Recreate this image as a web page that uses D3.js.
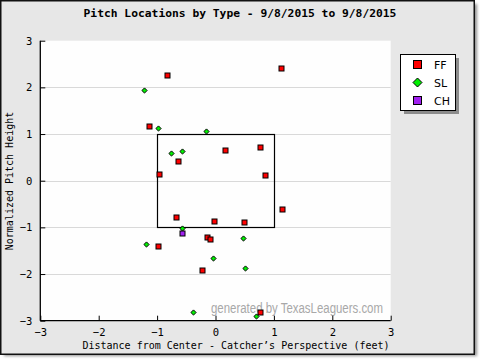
<!DOCTYPE html>
<html><head><meta charset="utf-8">
<script src="https://cdn.jsdelivr.net/npm/d3@7"></script>
<style>body{margin:0;background:#fff}svg{display:block}</style>
</head><body>
<script>
const pitchTypes = ["FF","SL","CH"];
const typeColors = ["#ff0000","#00ee00","#a020f0"];
const ffX = [-0.83,1.125,-1.14,-0.64,0.165,0.765,-0.97,0.85,1.14,-0.675,-0.03,0.49,-0.14,-0.09,-0.99,-0.23,0.765];
const ffY = [2.27,2.42,1.18,0.43,0.66,0.73,0.15,0.13,-0.60,-0.77,-0.86,-0.89,-1.20,-1.24,-1.39,-1.91,-2.81];
const slX = [-1.22,-0.98,-0.16,-0.76,-0.57,-0.57,0.47,-1.19,-0.04,0.51,-0.38,0.70];
const slY = [1.95,1.14,1.07,0.60,0.64,-1.01,-1.22,-1.35,-1.65,-1.86,-2.81,-2.89];
const chX = [-0.57];
const chY = [-1.11];
const axisTicks = [-3,-2,-1,0,1,2,3];
const gridTicks = [-2,-1,0,1,2];
const zoneX = [-1,1];
const zoneY = [-1,1];

const W=480,H=360;
const svg=d3.select("body").append("svg").attr("width",W).attr("height",H);
const defs=svg.append("defs");
defs.append("filter").attr("id","blur").attr("x","-10%").attr("y","-10%").attr("width","120%").attr("height","120%")
  .append("feGaussianBlur").attr("stdDeviation",1.5);
// panel + shadow
svg.append("rect").attr("x",4).attr("y",4).attr("width",473).attr("height",352).attr("fill","#909090").attr("filter","url(#blur)");
svg.append("rect").attr("x",0.75).attr("y",0.75).attr("width",473.5).attr("height",353.5).attr("fill","#e7e7e7").attr("stroke","#111").attr("stroke-width",1.5);

const x=d3.scaleLinear().domain([-3,3]).range([40.3,390.7]);
const y=d3.scaleLinear().domain([-3,3]).range([320.7,40.7]);

svg.append("rect").attr("x",x(-3)).attr("y",y(3)).attr("width",x(3)-x(-3)).attr("height",y(-3)-y(3)).attr("fill","#fefefe");

svg.append("g").selectAll("line").data(gridTicks).join("line")
  .attr("x1",x(-3)).attr("x2",x(3)).attr("y1",d=>Math.round(y(d))+0.5).attr("y2",d=>Math.round(y(d))+0.5)
  .attr("stroke","#d9d9d9");

// watermark
svg.append("text").attr("x",211).attr("y",313).attr("textLength",172).attr("lengthAdjust","spacingAndGlyphs")
  .attr("font-family","Liberation Sans, Arial, sans-serif").attr("font-size",14).attr("fill","#a8a8a8")
  .text("generated by TexasLeaguers.com");

// strike zone
svg.append("rect").attr("x",Math.round(x(zoneX[0]))+0.5).attr("y",Math.round(y(zoneY[1]))+0.5)
  .attr("width",Math.round(x(zoneX[1]))-Math.round(x(zoneX[0]))).attr("height",Math.round(y(zoneY[0]))-Math.round(y(zoneY[1])))
  .attr("fill","none").attr("stroke","#000").attr("stroke-width",1.2);

const tickFont="DejaVu Sans Mono, monospace";
const xa=svg.append("g").attr("transform",`translate(0,${y(-3)})`)
  .call(d3.axisBottom(x).tickValues(axisTicks).tickSize(-5).tickPadding(8).tickFormat(d3.format("d")));
const ya=svg.append("g").attr("transform",`translate(${x(-3)},0)`)
  .call(d3.axisLeft(y).tickValues(axisTicks).tickSize(-5).tickPadding(8).tickFormat(d3.format("d")));
[xa,ya].forEach(g=>{
  g.select(".domain").attr("stroke","#000").attr("stroke-width",1.3);
  g.selectAll(".tick line").attr("stroke","#000");
  g.selectAll("text").attr("font-family",tickFont).attr("font-size",10.5).attr("fill","#000");
});
xa.select(".domain").attr("d",`M${x(-3)},0H${x(3)}`);
ya.select(".domain").attr("d",`M0,${y(-3)}V${y(3)}`);

function square(g,xs,ys,color,s){
  g.selectAll(null).data(xs.map((v,i)=>[v,ys[i]])).join("rect")
   .attr("x",d=>Math.round(x(d[0]))-s/2+0.5).attr("y",d=>Math.round(y(d[1]))-s/2+0.5)
   .attr("width",s).attr("height",s).attr("fill",color).attr("stroke","#000").attr("stroke-width",1);
}
function diamond(g,xs,ys,color,r){
  g.selectAll(null).data(xs.map((v,i)=>[v,ys[i]])).join("path")
   .attr("d",d=>{const cx=Math.round(x(d[0]))+0.5,cy=Math.round(y(d[1]))+0.5;return `M${cx},${cy-r}L${cx+r},${cy}L${cx},${cy+r}L${cx-r},${cy}Z`;})
   .attr("fill",color).attr("stroke","#000").attr("stroke-width",1);
}
const pts=svg.append("g");
diamond(pts,slX,slY,typeColors[1],2.6);
square(pts,ffX,ffY,typeColors[0],5);
square(pts,chX,chY,typeColors[2],5);

// titles
svg.append("text").attr("x",240).attr("y",17).attr("text-anchor","middle")
  .attr("font-family",tickFont).attr("font-weight","bold").attr("font-size",11.3).attr("fill","#000")
  .text("Pitch Locations by Type - 9/8/2015 to 9/8/2015");
svg.append("text").attr("x",236).attr("y",349).attr("text-anchor","middle")
  .attr("font-family",tickFont).attr("font-size",10).attr("fill","#000")
  .text("Distance from Center - Catcher’s Perspective (feet)");
svg.append("text").attr("transform","translate(13,181) rotate(-90)").attr("text-anchor","middle")
  .attr("font-family",tickFont).attr("font-size",10).attr("fill","#000")
  .text("Normalized Pitch Height");

// legend
const lg=svg.append("g");
lg.append("rect").attr("x",404).attr("y",58).attr("width",55).attr("height",56).attr("fill","#8c8c8c");
lg.append("rect").attr("x",400.5).attr("y",54.5).attr("width",55).attr("height",56).attr("fill","#fff").attr("stroke","#000");
pitchTypes.forEach((t,i)=>{
  const cy=64.5+i*18;
  if(t==="SL"){
    lg.append("path").attr("d",`M417.5,${cy-4.5}L422,${cy}L417.5,${cy+4.5}L413,${cy}Z`).attr("fill",typeColors[i]).attr("stroke","#000");
  } else {
    lg.append("rect").attr("x",413.5).attr("y",cy-4).attr("width",8).attr("height",8).attr("fill",typeColors[i]).attr("stroke","#000");
  }
  lg.append("text").attr("x",434).attr("y",cy+4).attr("font-family","DejaVu Sans, sans-serif").attr("font-size",11).attr("fill","#000").text(t);
});
</script>
</body></html>
